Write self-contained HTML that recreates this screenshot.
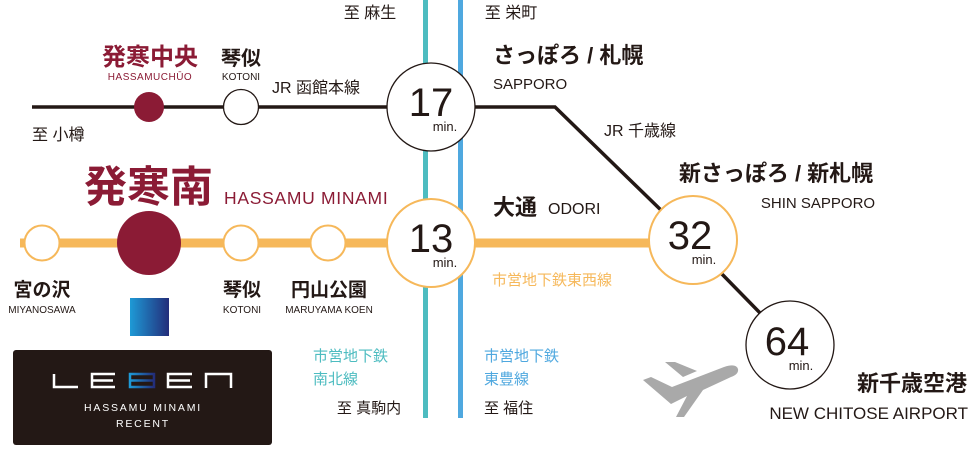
<!DOCTYPE html>
<html><head><meta charset="utf-8"><style>
body{margin:0;background:#fff;}
svg text{font-family:"Liberation Sans","Noto Sans CJK JP",sans-serif;}
</style></head><body>
<svg width="968" height="445" viewBox="0 0 968 445" xmlns="http://www.w3.org/2000/svg">
<defs>
<linearGradient id="g" x1="0" x2="1" y1="0" y2="0"><stop offset="0" stop-color="#1e9ad6"/><stop offset="1" stop-color="#232d7a"/></linearGradient>
</defs>
<rect x="423" y="0" width="5" height="418" fill="#4dbcc0"/>
<rect x="458" y="0" width="5" height="418" fill="#4fa8df"/>
<line x1="32" y1="107" x2="400" y2="107" stroke="#231815" stroke-width="3.5"/>
<polyline points="460,107 555,107 665,214" fill="none" stroke="#231815" stroke-width="3.5"/>
<line x1="718" y1="270" x2="765" y2="318" stroke="#231815" stroke-width="3.5"/>
<line x1="20" y1="243" x2="660" y2="243" stroke="#f6b85a" stroke-width="9"/>
<circle cx="149" cy="107" r="15" fill="#8b1b35"/>
<circle cx="241" cy="107" r="17.5" fill="#fff" stroke="#231815" stroke-width="1.3"/>
<circle cx="42" cy="243" r="17.5" fill="#fff" stroke="#f6b85a" stroke-width="2"/>
<circle cx="149" cy="243" r="32" fill="#8b1b35"/>
<circle cx="241" cy="243" r="17.5" fill="#fff" stroke="#f6b85a" stroke-width="2"/>
<circle cx="328" cy="243" r="17.5" fill="#fff" stroke="#f6b85a" stroke-width="2"/>
<circle cx="431" cy="107" r="44" fill="#fff" stroke="#231815" stroke-width="1.3"/>
<text x="431" y="116" font-size="40" text-anchor="middle" fill="#231815">17</text>
<text x="445" y="131" font-size="13" text-anchor="middle" fill="#231815">min.</text>
<circle cx="431" cy="243" r="44" fill="#fff" stroke="#f6b85a" stroke-width="2"/>
<text x="431" y="252" font-size="40" text-anchor="middle" fill="#231815">13</text>
<text x="445" y="267" font-size="13" text-anchor="middle" fill="#231815">min.</text>
<circle cx="693" cy="240" r="44" fill="#fff" stroke="#f6b85a" stroke-width="2"/>
<text x="690" y="249" font-size="40" text-anchor="middle" fill="#231815">32</text>
<text x="704" y="264" font-size="13" text-anchor="middle" fill="#231815">min.</text>
<circle cx="790" cy="345" r="44" fill="#fff" stroke="#231815" stroke-width="1.3"/>
<text x="787" y="355" font-size="40" text-anchor="middle" fill="#231815">64</text>
<text x="801" y="370" font-size="13" text-anchor="middle" fill="#231815">min.</text>
<text x="370" y="18" font-size="16" text-anchor="middle" fill="#231815">至 麻生</text>
<text x="511" y="18" font-size="16" text-anchor="middle" fill="#231815">至 栄町</text>
<text x="150" y="65" font-size="24" font-weight="bold" text-anchor="middle" fill="#8b1b35">発寒中央</text>
<text x="150" y="80" font-size="10" text-anchor="middle" fill="#8b1b35" letter-spacing="0.5">HASSAMUCHŪO</text>
<text x="241" y="65" font-size="20" font-weight="bold" text-anchor="middle" fill="#231815">琴似</text>
<text x="241" y="80" font-size="10" text-anchor="middle" fill="#231815">KOTONI</text>
<text x="272" y="93" font-size="16" fill="#231815">JR 函館本線</text>
<text x="32" y="140" font-size="16" fill="#231815">至 小樽</text>
<text x="84" y="202" font-size="43" font-weight="bold" fill="#8b1b35">発寒南</text>
<text x="224" y="204" font-size="17.5" fill="#8b1b35" letter-spacing="0.7">HASSAMU MINAMI</text>
<text x="42" y="296" font-size="19" font-weight="bold" text-anchor="middle" fill="#231815">宮の沢</text>
<text x="42" y="313" font-size="10" text-anchor="middle" fill="#231815">MIYANOSAWA</text>
<text x="242" y="296" font-size="19" font-weight="bold" text-anchor="middle" fill="#231815">琴似</text>
<text x="242" y="313" font-size="10" text-anchor="middle" fill="#231815">KOTONI</text>
<text x="329" y="296" font-size="19" font-weight="bold" text-anchor="middle" fill="#231815">円山公園</text>
<text x="329" y="313" font-size="10" text-anchor="middle" fill="#231815">MARUYAMA KOEN</text>
<text x="493" y="63" font-size="22" font-weight="bold" fill="#231815">さっぽろ / 札幌</text>
<text x="493" y="89" font-size="15" fill="#231815">SAPPORO</text>
<text x="604" y="136" font-size="16" fill="#231815">JR 千歳線</text>
<text x="776" y="181" font-size="22" font-weight="bold" text-anchor="middle" fill="#231815">新さっぽろ / 新札幌</text>
<text x="818" y="208" font-size="15" text-anchor="middle" fill="#231815">SHIN SAPPORO</text>
<text x="493" y="215" font-size="22" font-weight="bold" fill="#231815">大通</text>
<text x="548" y="214" font-size="16" fill="#231815">ODORI</text>
<text x="492" y="285" font-size="15" fill="#f6b85a">市営地下鉄東西線</text>
<text x="313" y="361" font-size="15" fill="#4dbcc0">市営地下鉄</text>
<text x="313" y="384" font-size="15" fill="#4dbcc0">南北線</text>
<text x="369" y="413" font-size="15" text-anchor="middle" fill="#231815">至 真駒内</text>
<text x="484" y="361" font-size="15" fill="#4fa8df">市営地下鉄</text>
<text x="484" y="384" font-size="15" fill="#4fa8df">東豊線</text>
<text x="484" y="413" font-size="15" fill="#231815">至 福住</text>
<text x="967" y="391" font-size="22" font-weight="bold" text-anchor="end" fill="#231815">新千歳空港</text>
<text x="968" y="419" font-size="17" text-anchor="end" fill="#231815">NEW CHITOSE AIRPORT</text>
<g fill="#a9a9a9">
<path d="M643,380 L651,377 L672,387 L724,367 Q736,363 738,369 Q739,374 731,377 L703,390 L684,417 L676,417 L687,396 L671,404 Z"/>
<path d="M665,362 L675,362 L697,371 L683,377 Z"/>
</g>
<rect x="130" y="298" width="39" height="38" fill="url(#g)"/>
<rect x="13" y="350" width="259" height="95" rx="3" fill="#231815"/>
<g fill="none" stroke-width="2.5">
<path d="M54,374 V387 H78" stroke="#fff"/>
<path d="M115,374 H92 V387 H115 M92,380.5 H113" stroke="#fff"/>
<path d="M130,374 H154 V387 H130 Z M130,380.5 H154" stroke="url(#g)"/>
<path d="M192,374 H168 V387 H192 M168,380.5 H190" stroke="#fff"/>
<path d="M206,388 V374 H231 V388" stroke="#fff"/>
</g>
<text x="143" y="411" font-size="10.5" text-anchor="middle" fill="#fff" letter-spacing="1.8">HASSAMU MINAMI</text>
<text x="143" y="427" font-size="10.5" text-anchor="middle" fill="#fff" letter-spacing="1.8">RECENT</text>
</svg>
</body></html>
